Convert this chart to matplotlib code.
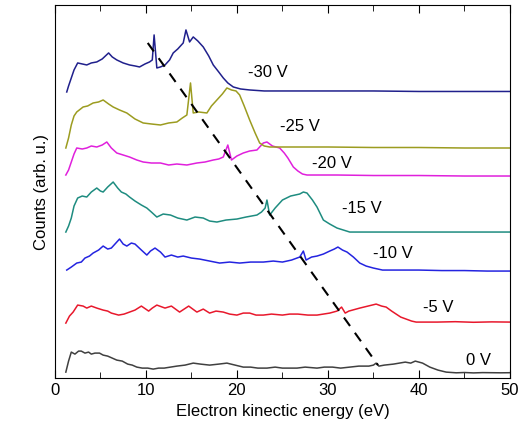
import matplotlib
matplotlib.use('Agg')
import numpy as np
import matplotlib.pyplot as plt
from matplotlib.ticker import MultipleLocator

plt.rcParams['font.family'] = ['Liberation Sans', 'DejaVu Sans']

# spectra (counts in arb. units, already offset)
e_0v = [1.2, 1.5, 1.8, 2.2, 2.6, 2.9, 3.3, 3.7, 4.0, 4.4, 4.9, 5.3, 5.8, 6.3, 6.8, 7.4, 8.0, 8.5, 9.0, 9.6, 10.2,
        10.8, 11.4, 12.0, 12.7, 13.4, 14.3, 15.2, 16.0, 17.0, 18.0, 18.9, 19.8, 20.7, 21.5, 22.3, 23.3, 24.2, 25.0,
        26.0, 26.6, 27.5, 28.8, 29.6, 30.5, 31.4, 32.4, 33.4, 34.5, 35.0, 35.3, 35.6, 36.2, 37.2, 38.5, 39.1, 39.6,
        40.0, 40.4, 41.2, 42.1, 43.0, 44.1, 45, 46, 47, 48, 49, 50]
c_0v = [6, 17, 26, 24, 27, 27, 25, 26, 24, 25, 25, 23, 22, 20, 18, 17, 14, 13, 11, 10, 10, 9, 10, 10, 11, 12, 13,
        15, 14, 13, 14, 15, 13, 11, 11, 10, 10, 11, 10, 10, 10, 11, 10, 11, 11, 10, 11, 12, 12, 13, 15, 12, 13, 14,
        16, 15, 17, 16, 15, 11, 8, 6, 5.3, 5.6, 5.2, 5.5, 5.4, 5.3, 5.4]

e_5v = [1.2, 1.6, 2.0, 2.5, 3.1, 3.5, 4.0, 4.6, 5.3, 5.8, 6.2, 7.0, 7.6, 8.2, 8.8, 9.5, 10.3, 10.7, 11.2, 12.1,
        12.8, 13.7, 14.7, 15.6, 16.3, 17.0, 17.7, 18.5, 19.2, 20.0, 20.7, 21.4, 22.1, 22.9, 23.8, 25.0, 25.8, 26.7,
        27.8, 28.8, 29.5, 30.2, 31.0, 31.5, 31.9, 32.3, 32.7, 33.5, 34.4, 35.3, 35.9, 36.4, 37.0, 37.5, 38.0, 38.6,
        39.2, 39.7, 40.5, 42, 44, 46, 48, 50]
c_5v = [55, 62, 66, 73, 72, 70, 72, 70, 68, 67, 65, 63, 64, 66, 68, 72, 67, 70, 73, 70, 72, 66, 72, 66, 69, 65,
        67, 66, 64, 63, 65, 65, 63, 63, 64, 63, 64, 64, 63, 63, 64, 65, 67, 71, 65, 67, 68, 70, 72, 74, 72, 71, 67,
        64, 61, 59, 57, 56, 56, 56, 56.4, 55.8, 56.2, 56]

e_10v = [1.3, 1.8, 2.4, 2.9, 3.3, 3.8, 4.2, 4.8, 5.3, 5.8, 6.2, 6.7, 7.1, 7.5, 7.9, 8.4, 8.8, 9.5, 10.1, 10.5,
         11.0, 11.6, 12.1, 12.8, 13.5, 14.1, 15.0, 15.9, 17.0, 18.1, 19.2, 20.3, 21.5, 22.9, 24.0, 25.0, 26.0,
         26.9, 27.3, 27.6, 28.2, 28.8, 29.5, 30.2, 30.7, 31.1, 31.6, 32.1, 32.8, 33.5, 34.2, 35.0, 36.0, 38, 40,
         42.5, 45, 47.5, 50]
c_10v = [108, 111, 115, 116, 120, 122, 125, 128, 132, 129, 130, 135, 139, 134, 132, 135, 134, 128, 123, 127, 130,
         126, 121, 123, 121, 122, 120, 119, 117, 115, 116, 115, 116, 116, 117, 116, 118, 121, 127, 118, 121, 122,
         124, 127, 129, 131, 128, 126, 121, 115, 112, 110, 108, 108, 108, 107.5, 107.5, 107, 107]

e_15v = [1.2, 1.5, 1.8, 2.1, 2.5, 3.0, 3.5, 4.0, 4.6, 5.0, 5.3, 5.8, 6.4, 6.9, 7.3, 7.8, 8.2, 8.8, 9.5, 10.1, 10.6,
         11.2, 11.9, 12.7, 13.5, 14.5, 15.4, 16.3, 17.0, 17.8, 18.8, 20.0, 21.0, 22.2, 22.7, 23.1, 23.3, 23.6,
         24.2, 25.0, 25.9, 26.9, 27.3, 27.7, 28.3, 28.8, 29.5, 30.2, 31.0, 31.7, 32.4, 34, 36, 39, 42, 46, 50]
c_15v = [146, 152, 160, 172, 180, 182, 181, 186, 190, 187, 186, 191, 196, 190, 186, 184, 181, 177, 173, 170, 166,
         161, 164, 163, 160, 158, 161, 160, 157, 156, 158, 159, 161, 163, 166, 170, 178, 163, 170, 178, 182, 184,
         186, 185, 178, 171, 158, 154, 150, 148, 146, 146, 146, 146, 146, 146, 146]

e_20v = [1.2, 1.5, 1.8, 2.1, 2.4, 3.0, 3.5, 4.0, 4.6, 5.2, 5.7, 6.2, 6.8, 7.5, 8.2, 9.0, 9.7, 10.6, 11.6, 12.5,
         13.4, 14.5, 15.6, 16.5, 17.4, 18.0, 18.5, 19.0, 19.4, 20.0, 20.7, 21.4, 22.2, 22.9, 23.3, 23.9, 24.7,
         25.2, 25.6, 26.2, 26.7, 27.2, 27.7, 29, 31, 35, 40, 45, 50]
c_20v = [203, 208, 216, 224, 230, 229, 230, 232, 231, 233, 236, 230, 225, 223, 221, 218, 216, 215, 215, 213, 214,
         213, 215, 216, 218, 219, 221, 233, 218, 222, 225, 227, 228, 235, 236, 232, 230, 225, 220, 211, 207, 204,
         203, 203, 203, 202.5, 202.5, 202, 202]

e_25v = [1.2, 1.5, 1.8, 2.1, 2.4, 3.1, 3.6, 4.2, 4.8, 5.3, 5.9, 6.4, 7.1, 7.9, 8.8, 9.7, 10.6, 11.6, 12.5, 13.4,
         14.0, 14.5, 14.9, 15.2, 15.8, 16.7, 17.2, 17.8, 18.4, 18.9, 19.4, 19.9, 20.3, 20.8, 21.4, 22.0, 22.5,
         23.0, 23.6, 26, 30, 35, 40, 45, 50]
c_25v = [230, 240, 253, 262, 266, 271, 272, 275, 276, 278, 274, 271, 268, 265, 259, 255, 254, 253, 255, 256, 260,
         263, 295, 265, 266, 265, 272, 278, 284, 290, 288, 287, 283, 272, 258, 245, 235, 232, 231, 231, 231,
         230.5, 230.5, 230, 230]

e_30v = [1.3, 1.5, 1.8, 2.1, 2.5, 3.0, 3.5, 4.0, 4.6, 5.2, 5.9, 6.3, 6.8, 7.5, 8.2, 8.8, 9.3, 9.9, 10.4, 10.7,
         10.9, 11.2, 11.6, 12.1, 12.6, 13.0, 13.5, 14.1, 14.4, 14.8, 15.2, 15.7, 16.3, 16.9, 17.4, 18.0, 18.5,
         19.0, 19.6, 20.4, 21.4, 23, 25, 30, 35, 40, 45, 50]
c_30v = [286, 292, 300, 308, 315, 314, 313, 315, 316, 319, 325, 321, 318, 315, 313, 312, 311, 314, 316, 318, 343,
         310, 311, 313, 318, 325, 329, 335, 348, 336, 341, 337, 331, 322, 313, 306, 300, 295, 291, 289, 288, 287,
         287, 287, 287, 286.5, 286.5, 286.5]

guide_e = [10.2, 35.5]
guide_c = [335, 13]

series = [
    (e_0v, c_0v, '#404040', '0 V', (46.5, 18)),
    (e_5v, c_5v, '#e8182c', '-5 V', (42.1, 71)),
    (e_10v, c_10v, '#2424e0', '-10 V', (37.1, 125)),
    (e_15v, c_15v, '#1e8c80', '-15 V', (33.7, 170)),
    (e_20v, c_20v, '#e020dc', '-20 V', (30.4, 215)),
    (e_25v, c_25v, '#9c9c20', '-25 V', (26.9, 251)),
    (e_30v, c_30v, '#20208c', '-30 V', (23.4, 305)),
]

fig = plt.figure(figsize=(5.23, 4.48), dpi=100)
ax = fig.add_axes([0.105, 0.156, 0.870, 0.833])

for e, c, col, lab, pos in series:
    ax.plot(e, c, color=col, lw=1.1)
    ax.text(pos[0], pos[1], lab, fontsize=12, ha='center', va='center')

ax.plot(guide_e, guide_c, color='black', lw=1.5, ls=(0, (5, 4)))

ax.set_xlim(0, 50)
ax.set_ylim(0, 373)
ax.xaxis.set_major_locator(MultipleLocator(10))
ax.xaxis.set_minor_locator(MultipleLocator(5))
ax.tick_params(axis='x', which='both', direction='in', top=True, labelsize=12)
ax.tick_params(axis='x', which='major', length=6)
ax.tick_params(axis='x', which='minor', length=4)
ax.set_yticks([])
ax.set_xlabel('Electron kinectic energy (eV)', fontsize=12)
ax.set_ylabel('Counts (arb. u.)', fontsize=12)

fig.savefig('out.png', dpi=100)
